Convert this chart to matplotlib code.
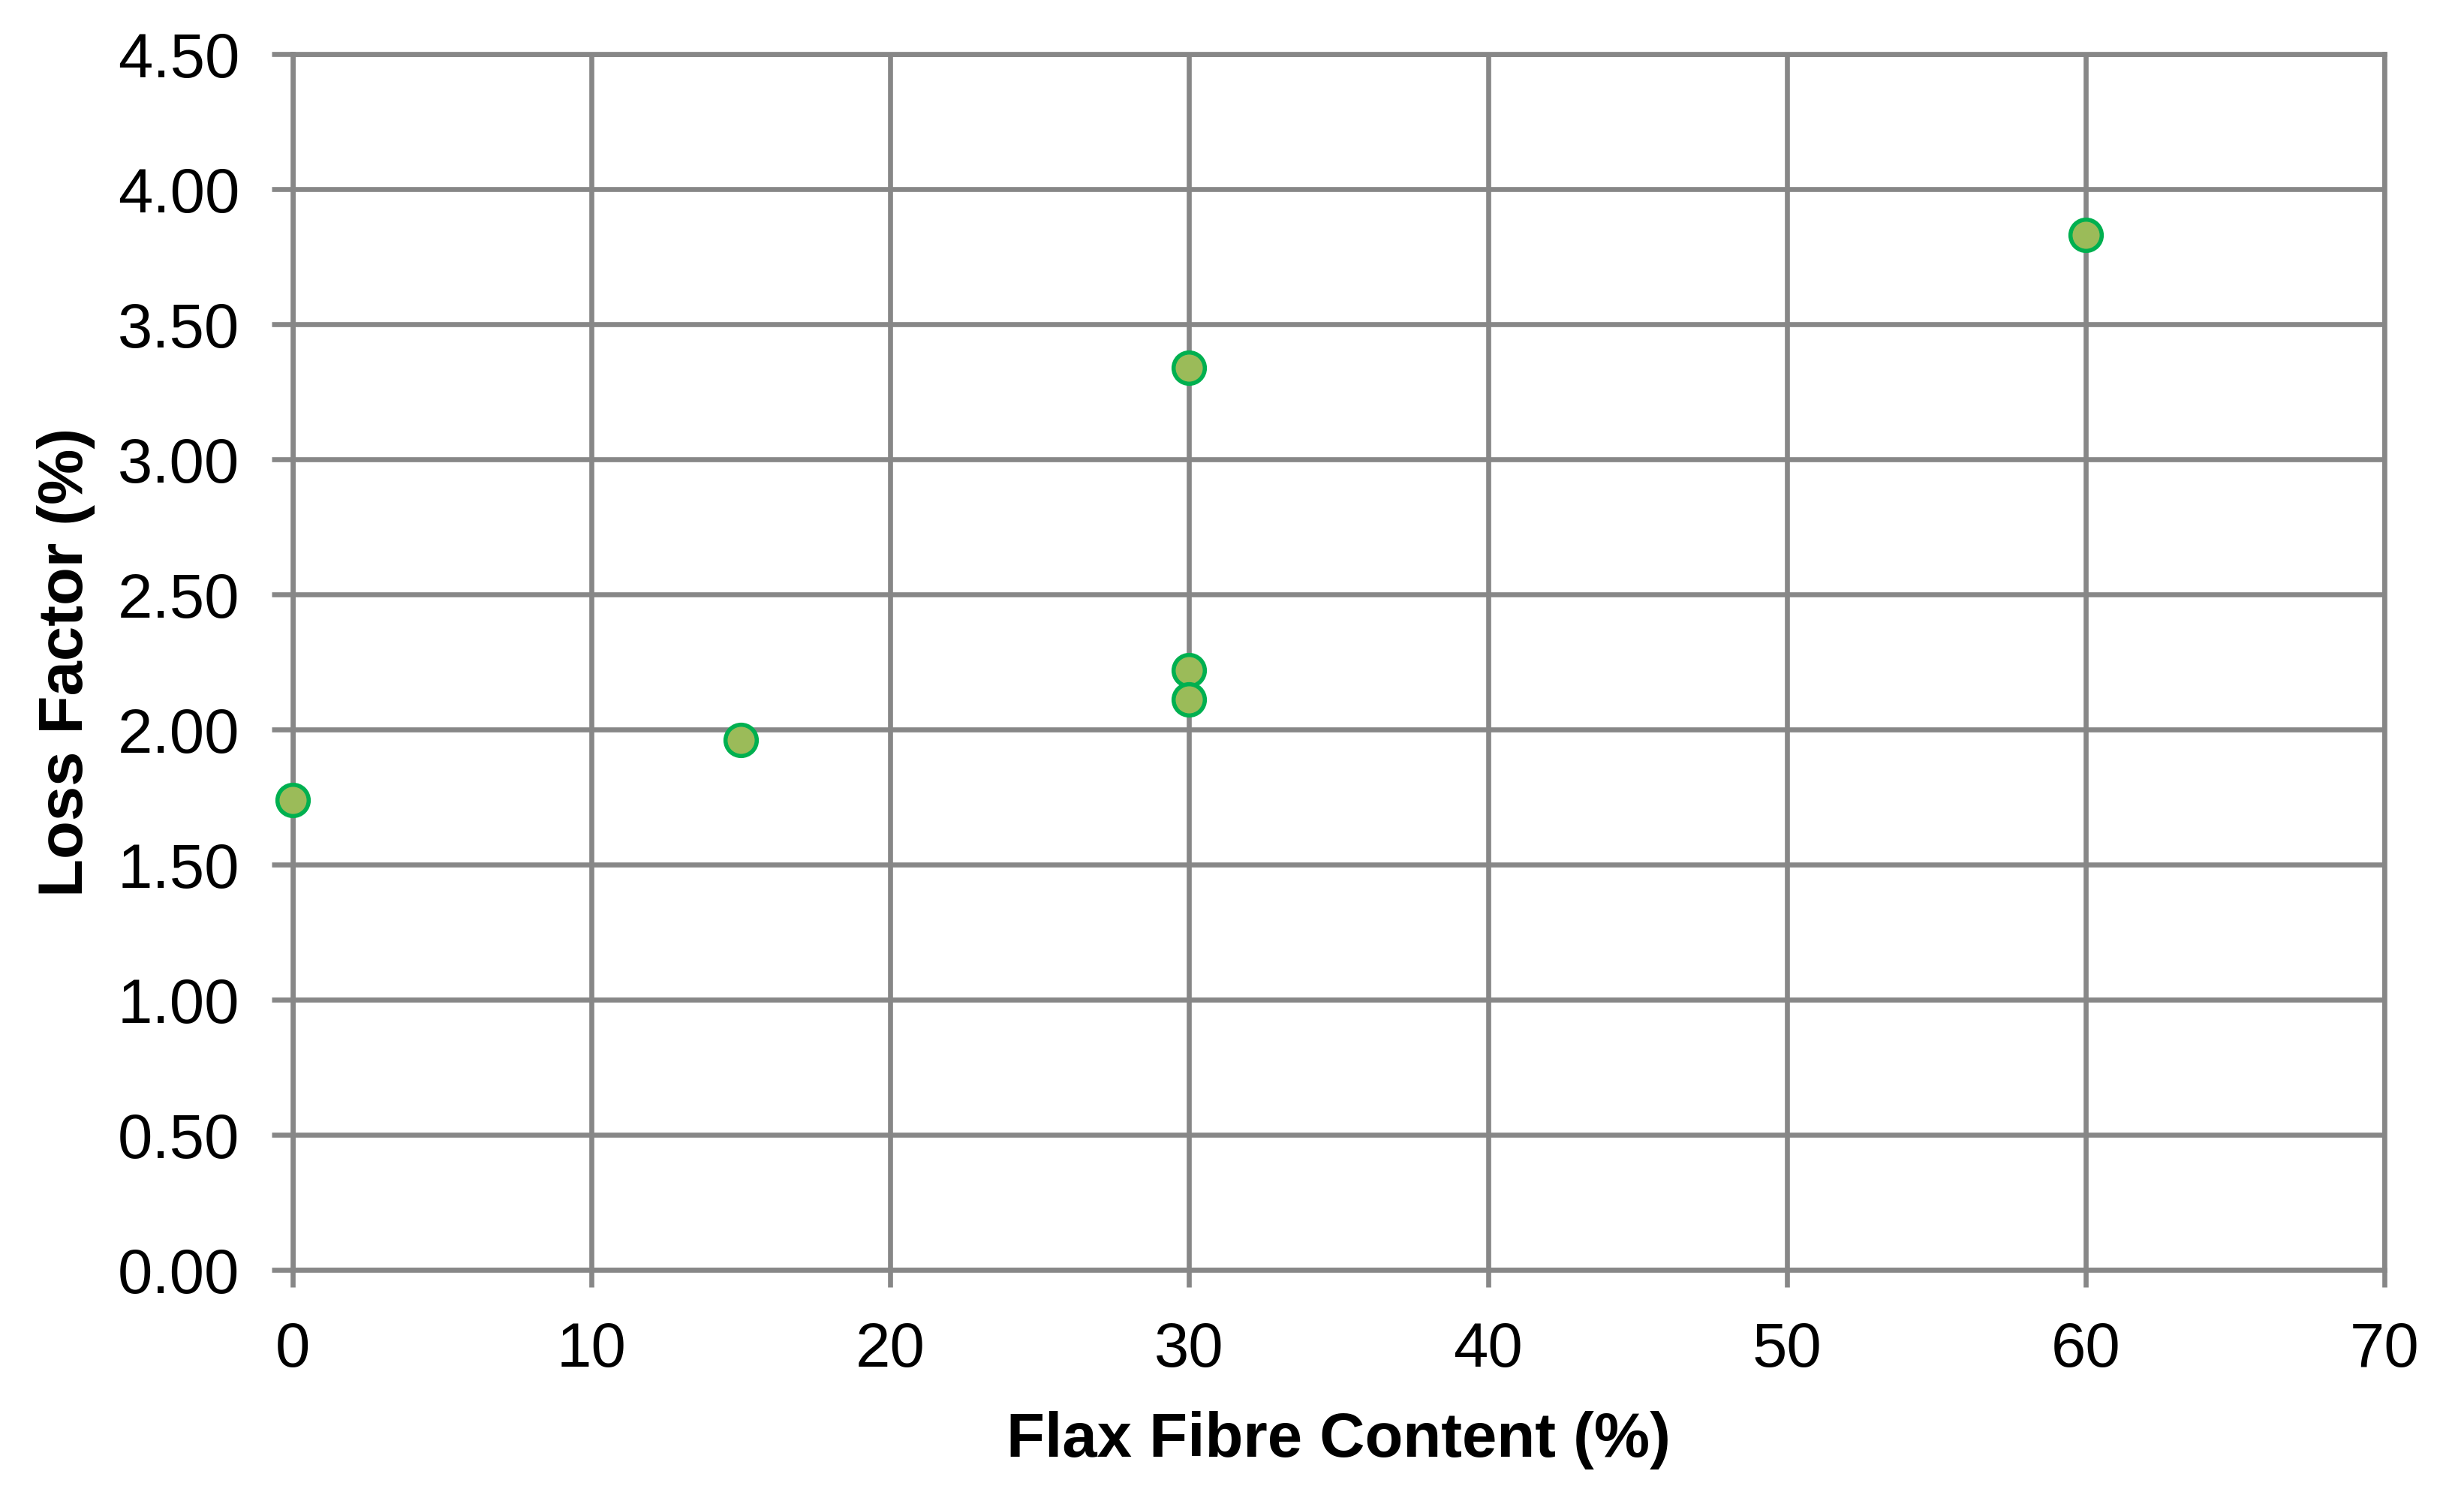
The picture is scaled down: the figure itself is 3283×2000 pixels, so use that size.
import matplotlib.pyplot as plt
import numpy as np

# data
fibre_content = [0, 15, 30, 30, 30, 60]
loss_factor = [1.74, 1.96, 3.34, 2.22, 2.11, 3.83]

x_ticks = list(range(0, 71, 10))
y_ticks = np.arange(0, 4.51, 0.5)

grid_col = '#878787'

plt.rcParams['font.family'] = ['Liberation Sans', 'DejaVu Sans']

fig = plt.figure(figsize=(16.415, 10), dpi=200)
ax = fig.add_axes([0.1188, 0.154, 0.9677 - 0.1188, 0.964 - 0.154])

ax.scatter(fibre_content, loss_factor, s=15 ** 2, facecolor='#9BBB59',
           edgecolor='#00B050', linewidth=2.0, zorder=5, clip_on=False)

ax.set_xlim(0, 70)
ax.set_ylim(0, 4.5)
ax.set_xticks(x_ticks)
ax.set_yticks(y_ticks)
ax.set_yticklabels([f'{v:.2f}' for v in y_ticks])

ax.grid(True, color=grid_col, linewidth=2.4)
ax.set_axisbelow(True)
for sp in ax.spines.values():
    sp.set_color(grid_col)
    sp.set_linewidth(2.4)

ax.tick_params(axis='both', colors=grid_col, width=2.4, labelcolor='black',
               labelsize=30)
ax.tick_params(axis='x', length=8.3, pad=16)
ax.tick_params(axis='y', length=10, pad=15.5)

ax.set_xlabel('Flax Fibre Content (%)', fontsize=30, fontweight='bold',
              va='center')
ax.set_ylabel('Loss Factor (%)', fontsize=30, fontweight='bold',
              va='center')
ax.xaxis.set_label_coords(0.5, -0.140)
ax.yaxis.set_label_coords(-0.1084, 0.5)

plt.savefig('out.png', dpi=200)
plt.close()
